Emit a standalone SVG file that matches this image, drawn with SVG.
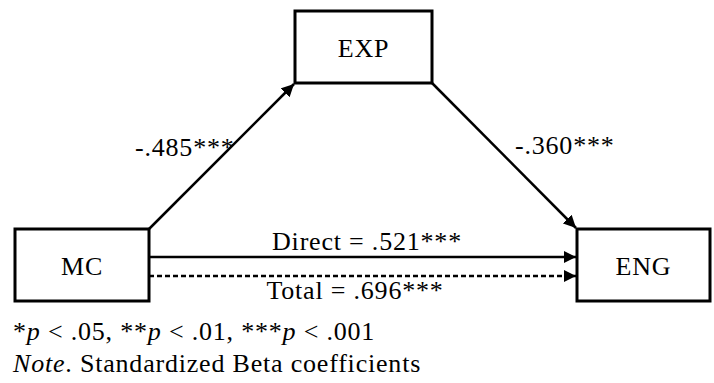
<svg xmlns="http://www.w3.org/2000/svg" width="714" height="383" viewBox="0 0 714 383">
<style>
  .box { fill: #fff; stroke: #000; stroke-width: 3; }
  .lbl { font-family: 'Liberation Serif', 'Times New Roman', 'DejaVu Serif', serif; font-size: 26px; letter-spacing: 0.8px; fill: #000; }
  .edge { stroke: #000; stroke-width: 2.5; fill: none; }
  .dash { stroke-dasharray: 5 3; }
</style>
<defs>
  <marker id="ah" viewBox="0 0 10 10" refX="10" refY="5" markerWidth="5" markerHeight="5" orient="auto" markerUnits="strokeWidth">
    <path d="M0,0 L10,5 L0,10 z" fill="#000"/>
  </marker>
</defs>
<rect width="714" height="383" fill="#fff"/>
<g id="connectors">
  <line class="edge" x1="149" y1="229" x2="294" y2="84" marker-end="url(#ah)"/>
  <line class="edge" x1="432" y1="83" x2="576" y2="228" marker-end="url(#ah)"/>
  <line class="edge" x1="149" y1="257" x2="576" y2="257" marker-end="url(#ah)"/>
  <line class="edge dash" x1="149" y1="276" x2="576" y2="276" marker-end="url(#ah)"/>
  <text class="lbl" x="135" y="156">-.485***</text>
  <text class="lbl" x="515" y="154">-.360***</text>
  <text class="lbl" x="367" y="250" text-anchor="middle">Direct = .521***</text>
  <text class="lbl" x="355" y="299" text-anchor="middle">Total = .696***</text>
</g>
<g id="node-EXP">
  <rect class="box" x="295" y="11" width="137" height="72"/>
  <text class="lbl" x="363.5" y="57" text-anchor="middle">EXP</text>
</g>
<g id="node-MC">
  <rect class="box" x="15" y="229" width="134" height="72"/>
  <text class="lbl" x="82" y="275" text-anchor="middle">MC</text>
</g>
<g id="node-ENG">
  <rect class="box" x="577" y="229" width="133" height="72"/>
  <text class="lbl" x="643.5" y="275" text-anchor="middle">ENG</text>
</g>
<g id="notes">
  <text class="lbl" x="13" y="340">*<tspan font-style="italic">p</tspan> &lt; .05, **<tspan font-style="italic">p</tspan> &lt; .01, ***<tspan font-style="italic">p</tspan> &lt; .001</text>
  <text class="lbl" x="13" y="372"><tspan font-style="italic">Note</tspan>. Standardized Beta coefficients</text>
</g>
</svg>
